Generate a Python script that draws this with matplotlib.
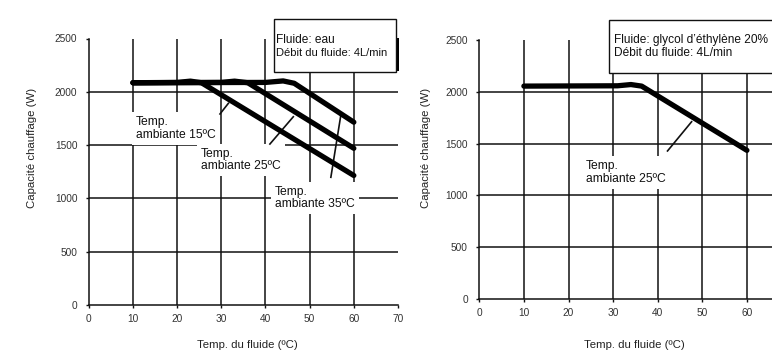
import matplotlib
matplotlib.use("Agg")
import matplotlib.pyplot as plt
from matplotlib.patches import Rectangle

plt.rcParams['font.family'] = ['Liberation Sans', 'DejaVu Sans']

# ---- data ----
x_ticks = [0, 10, 20, 30, 40, 50, 60, 70]
x_ticks_right = [0, 10, 20, 30, 40, 50, 60]
y_ticks = [0, 500, 1000, 1500, 2000, 2500]

# left chart (water)
water_15_x = [10, 20, 23, 25.5, 60]
water_15_y = [2085, 2088, 2100, 2085, 1215]
water_25_x = [10, 30, 33, 36, 60]
water_25_y = [2085, 2088, 2100, 2085, 1470]
water_35_x = [10, 40, 44, 46.5, 60]
water_35_y = [2085, 2088, 2102, 2080, 1715]
water_labels = ["Temp.\nambiante 15ºC", "Temp.\nambiante 25ºC", "Temp.\nambiante 35ºC"]

# right chart (ethylene glycol 20%)
glycol_25_x = [10, 31, 34, 36.4, 60]
glycol_25_y = [2055, 2058, 2070, 2055, 1435]
glycol_label = "Temp.\nambiante 25ºC"

left_box = ["Fluide: eau", "Débit du fluide: 4L/min"]
right_box = ["Fluide: glycol d\u2019éthylène 20%", "Débit du fluide: 4L/min"]
xlabel = "Temp. du fluide (ºC)"
ylabel = "Capacité chauffage (W)"

W, H = 772, 355
fig = plt.figure(figsize=(W / 100, H / 100), dpi=100)


def px_axes(x0, x1, y_top, y_bot):
    return fig.add_axes([x0 / W, 1 - y_bot / H, (x1 - x0) / W, (y_bot - y_top) / H])


axL = px_axes(88.8, 398, 38.5, 305)
axR = px_axes(479.3, 479.3 + 44.6 * 7, 40, 299)

for ax, xt in ((axL, x_ticks), (axR, x_ticks_right)):
    ax.set_xlim(0, 70)
    ax.set_ylim(0, 2500)
    ax.set_xticks(xt)
    ax.set_yticks(y_ticks)
    for s in ("top", "right"):
        ax.spines[s].set_visible(False)
    for s in ("left", "bottom"):
        ax.spines[s].set_linewidth(1.1)
        ax.spines[s].set_color("#111111")
    ax.tick_params(direction="out", length=2.5, width=1.0, colors="#111111",
                   labelsize=7.3, labelcolor="#333333")
    ax.tick_params(axis="x", pad=4.2)
    ax.tick_params(axis="y", pad=5.8)
    for xv in x_ticks[1:-1]:
        ax.axvline(xv, color="#111111", lw=1.1, zorder=1)
    for yv in y_ticks[1:-1]:
        ax.axhline(yv, color="#111111", lw=1.1, zorder=1)
    ax.set_xlabel(xlabel, fontsize=8.2, color="#222222")
    ax.set_ylabel(ylabel, fontsize=8.2, color="#222222")

axL.xaxis.set_label_coords(0.513, -0.131)
axL.yaxis.set_label_coords(-0.169, 0.589)
axR.xaxis.set_label_coords(0.4955, -0.158)
axR.yaxis.set_label_coords(-0.155, 0.583)

curve_kw = dict(color="black", lw=3.8, solid_capstyle="round", solid_joinstyle="round", zorder=4)
for xs, ys in ((water_15_x, water_15_y), (water_25_x, water_25_y), (water_35_x, water_35_y)):
    axL.plot(xs, ys, **curve_kw)
axR.plot(glycol_25_x, glycol_25_y, **curve_kw)

ptr_kw = dict(color="#111111", lw=1.2, zorder=3)
axL.plot([29.7, 31.6], [1792, 1892], **ptr_kw)
axL.plot([41.0, 46.3], [1510, 1766], **ptr_kw)
axL.plot([54.8, 57.0], [1198, 1766], **ptr_kw)
axR.plot([42.2, 47.6], [1429, 1711], **ptr_kw)

txt_kw = dict(fontsize=8.7, ha="left", va="top", linespacing=1.05, color="#111111", zorder=2,
              bbox=dict(facecolor="white", edgecolor="none", pad=3))
axL.text(10.7, 1770, water_labels[0], **txt_kw)
axL.text(25.4, 1474, water_labels[1], **txt_kw)
axL.text(42.2, 1117, water_labels[2], **txt_kw)
axR.text(23.9, 1338, glycol_label, **txt_kw)

# info boxes (figure pixel coordinates)
def fig_rect(x0, y0, x1, y1, **kw):
    r = Rectangle((x0 / W, 1 - y1 / H), (x1 - x0) / W, (y1 - y0) / H,
                  transform=fig.transFigure, **kw)
    fig.patches.append(r)


fig_rect(396, 38, 398.5, 71, facecolor="black", edgecolor="none", zorder=5)
fig_rect(274, 19, 396, 71.5, facecolor="white", edgecolor="#111111", lw=1.0, zorder=6)
fig_rect(609.3, 20, 790, 72.5, facecolor="white", edgecolor="#111111", lw=1.0, zorder=6)

fig.text(276.5 / W, 1 - 40 / H, left_box[0], fontsize=8.6, va="center", ha="left", zorder=7, color="#111111")
fig.text(276.5 / W, 1 - 52.5 / H, left_box[1], fontsize=8.0, va="center", ha="left", zorder=7, color="#111111")
fig.text(614 / W, 1 - 40 / H, right_box[0], fontsize=8.6, va="center", ha="left", zorder=7, color="#111111")
fig.text(614 / W, 1 - 53 / H, right_box[1], fontsize=8.6, va="center", ha="left", zorder=7, color="#111111")

fig.savefig("out.png", dpi=100)
